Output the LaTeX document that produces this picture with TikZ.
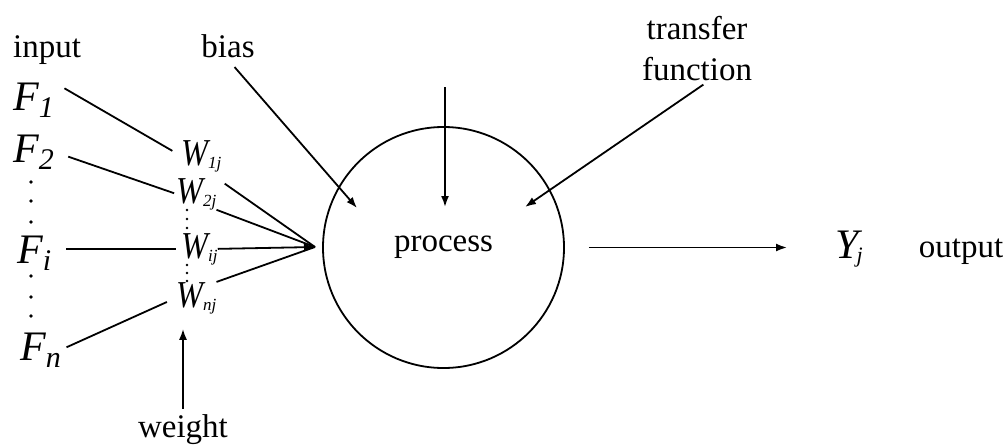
\documentclass[tikz,border=0pt]{standalone}
\usepackage{fontspec}
\setmainfont{Liberation Serif}
\usepackage{graphicx}
\usepackage{tikz}
\usetikzlibrary{arrows.meta,positioning}
\newcommand{\fsym}[1]{F\raisebox{-7pt}{\fontsize{30}{30}\selectfont #1}}
\newcommand{\wsym}[1]{\scalebox{0.85}[1]{W}\raisebox{-3pt}{\fontsize{17}{17}\selectfont #1}}
\newcommand{\ysym}{Y\kern-2pt\raisebox{-4pt}{\fontsize{22}{22}\selectfont j}}
\pgfkeys{tikz/mylabel/.style={font=\fontsize{33}{41}\selectfont,inner sep=2pt}}
\pgfkeys{tikz/myvar/.style={font=\fontsize{42}{42}\selectfont\itshape,inner sep=0pt,anchor=base west}}
\pgfkeys{tikz/myweight/.style={font=\fontsize{38}{38}\selectfont\itshape,inner sep=0pt,anchor=base west}}
\pgfkeys{tikz/mylink/.style={line width=1.8pt}}
\pgfkeys{tikz/myarrow/.style={mylink,-{Latex[length=11pt,width=8pt]}}}

\begin{document}
\begin{tikzpicture}[x=1pt,y=-1pt]
  \useasboundingbox (0,0) rectangle (1008,444);

  \node[mylabel,anchor=base] (input) at (47,57) {input};
  \node[mylabel,anchor=base] (bias) at (228,57) {bias};
  \node[mylabel,align=center] (tf) at (697,49) {transfer\\function};
  \node[mylabel,anchor=base] (wgt) at (183,437) {weight};

  \node[myvar] (F1) at (13,110) {\fsym{1}};
  \node[myvar] (F2) at (13,162) {\fsym{2}};
  \node[myvar] (Fi) at (17,263) {\fsym{i}};
  \node[myvar] (Fn) at (20,360) {\fsym{n}};

  \node[myweight] (W1) at (181,165) {\wsym{1j}};
  \node[myweight] (W2) at (176,203) {\wsym{2j}};
  \node[myweight] (Wi) at (181,258) {\wsym{ij}};
  \node[myweight] (Wn) at (176,307) {\wsym{nj}};

  \node[mylabel,draw,circle,mylink,minimum size=241pt,inner sep=0pt] (proc) at (443.5,247.5) {process};
  \node[myvar] (Y) at (835,258) {\ysym};
  \node[mylabel,anchor=base] (out) at (961,257) {output};

  \coordinate (sum) at (315,247);
  \coordinate (biastip) at (357,208);
  \coordinate (topin) at (445,87);
  \coordinate (toptip) at (445,207);
  \coordinate (tftip) at (525,207);

  \foreach \y in {182,201,222,276,297,316} \fill (31,\y) circle (1.8);
  \foreach \y in {210,219,228,265,273,281} \fill (187,\y) circle (1.4);

  \draw[mylink,shorten <=12pt,shorten >=10pt] (F1.north east) -- (W1.west);
  \draw[mylink,shorten <=15pt,shorten >=2pt] (F2.east) -- (W2.west);
  \draw[mylink,shorten <=15pt,shorten >=5pt] ([yshift=4pt]Fi.east) -- ([yshift=4pt]Fi.east -| Wi.west);
  \draw[mylink,shorten <=6pt,shorten >=10pt] (Fn.east) -- (Wn.west);

  \draw[mylink,shorten <=10pt] (W2.north east) -- (sum);
  \draw[mylink] (W2.south east) -- (sum);
  \draw[mylink] (Wn.north east) -- (sum);
  \draw[myarrow] (Wi.east) -- (sum);

  \draw[myarrow,shorten <=10pt] (bias.south) -- (biastip);
  \draw[myarrow] (topin) -- (toptip);
  \draw[myarrow,shorten <=2pt] ([xshift=8pt]tf.south) -- (tftip);
  \draw[myarrow,shorten <=24pt,shorten >=48pt] (proc.east) -- (proc.east -| Y.west);
  \draw[myarrow,shorten <=3pt,shorten >=15pt] (wgt.north) -- (wgt.north |- Wn.south);
\end{tikzpicture}
\end{document}
